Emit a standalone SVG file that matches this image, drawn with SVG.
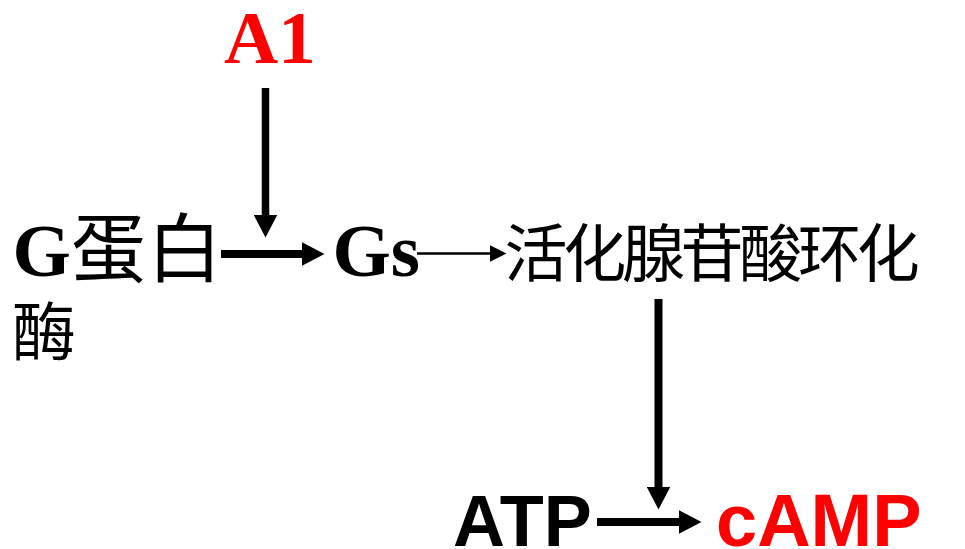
<svg xmlns="http://www.w3.org/2000/svg" width="965" height="549" viewBox="0 0 965 549">
  <style>
    .serif { font-family: "Liberation Serif", "Noto Sans CJK SC", serif; font-weight: bold; font-size: 75px; }
    .cjk { font-family: "Noto Sans CJK SC", sans-serif; font-weight: normal; }
    .sans { font-family: "Liberation Sans", Arial, sans-serif; font-weight: bold; font-size: 72px; }
    .red { fill: #FF0000; }
    .black { fill: #000000; }
    .thick { stroke: #000; stroke-width: 8; fill: none; marker-end: url(#headBig); }
    .thin { stroke: #000; stroke-width: 2.5; fill: none; marker-end: url(#headSmall); }
  </style>
  <defs>
    <marker id="headBig" markerUnits="userSpaceOnUse" viewBox="0 0 23 24" markerWidth="23" markerHeight="24" refX="0.5" refY="12" orient="auto">
      <path d="M0,0 L23,12 L0,24 z" fill="#000"/>
    </marker>
    <marker id="headSmall" markerUnits="userSpaceOnUse" viewBox="0 0 17 17" markerWidth="17" markerHeight="17" refX="0.5" refY="8.5" orient="auto">
      <path d="M0,0 L17,8.5 L0,17 z" fill="#000"/>
    </marker>
  </defs>
  <rect width="965" height="549" fill="#fff"/>

  <g id="A1">
    <text class="serif red" x="224" y="63">A1</text>
  </g>
  <g id="G-protein">
    <text class="serif black" x="12.5" y="276">G<tspan class="cjk" font-size="75" x="71">蛋</tspan><tspan class="cjk" font-size="75" x="147">白</tspan></text>
    <text class="cjk black" font-size="64" x="12" y="355">酶</text>
  </g>
  <g id="Gs">
    <text class="serif black" x="332.5" y="276">Gs</text>
  </g>
  <g id="adenylate-cyclase">
    <text class="cjk black" font-size="63" y="276" x="504.5 563.2 621.9 680.6 739.3 798 856.7">活化腺苷酸环化</text>
  </g>
  <g id="ATP">
    <text class="sans black" x="453" y="546">ATP</text>
  </g>
  <g id="cAMP">
    <text class="sans red" x="716" y="546" style="font-size:74px">cAMP</text>
  </g>

  <g id="connectors">
    <line class="thick" x1="265.5" y1="88" x2="265.5" y2="215" style="stroke-width:7.5"/>
    <line class="thick" x1="221" y1="254" x2="302" y2="254"/>
    <line class="thin" x1="417" y1="253.5" x2="490" y2="253.5"/>
    <line class="thick" x1="658.5" y1="299" x2="658.5" y2="487"/>
    <line class="thick" x1="597" y1="522" x2="679" y2="522"/>
  </g>
</svg>
